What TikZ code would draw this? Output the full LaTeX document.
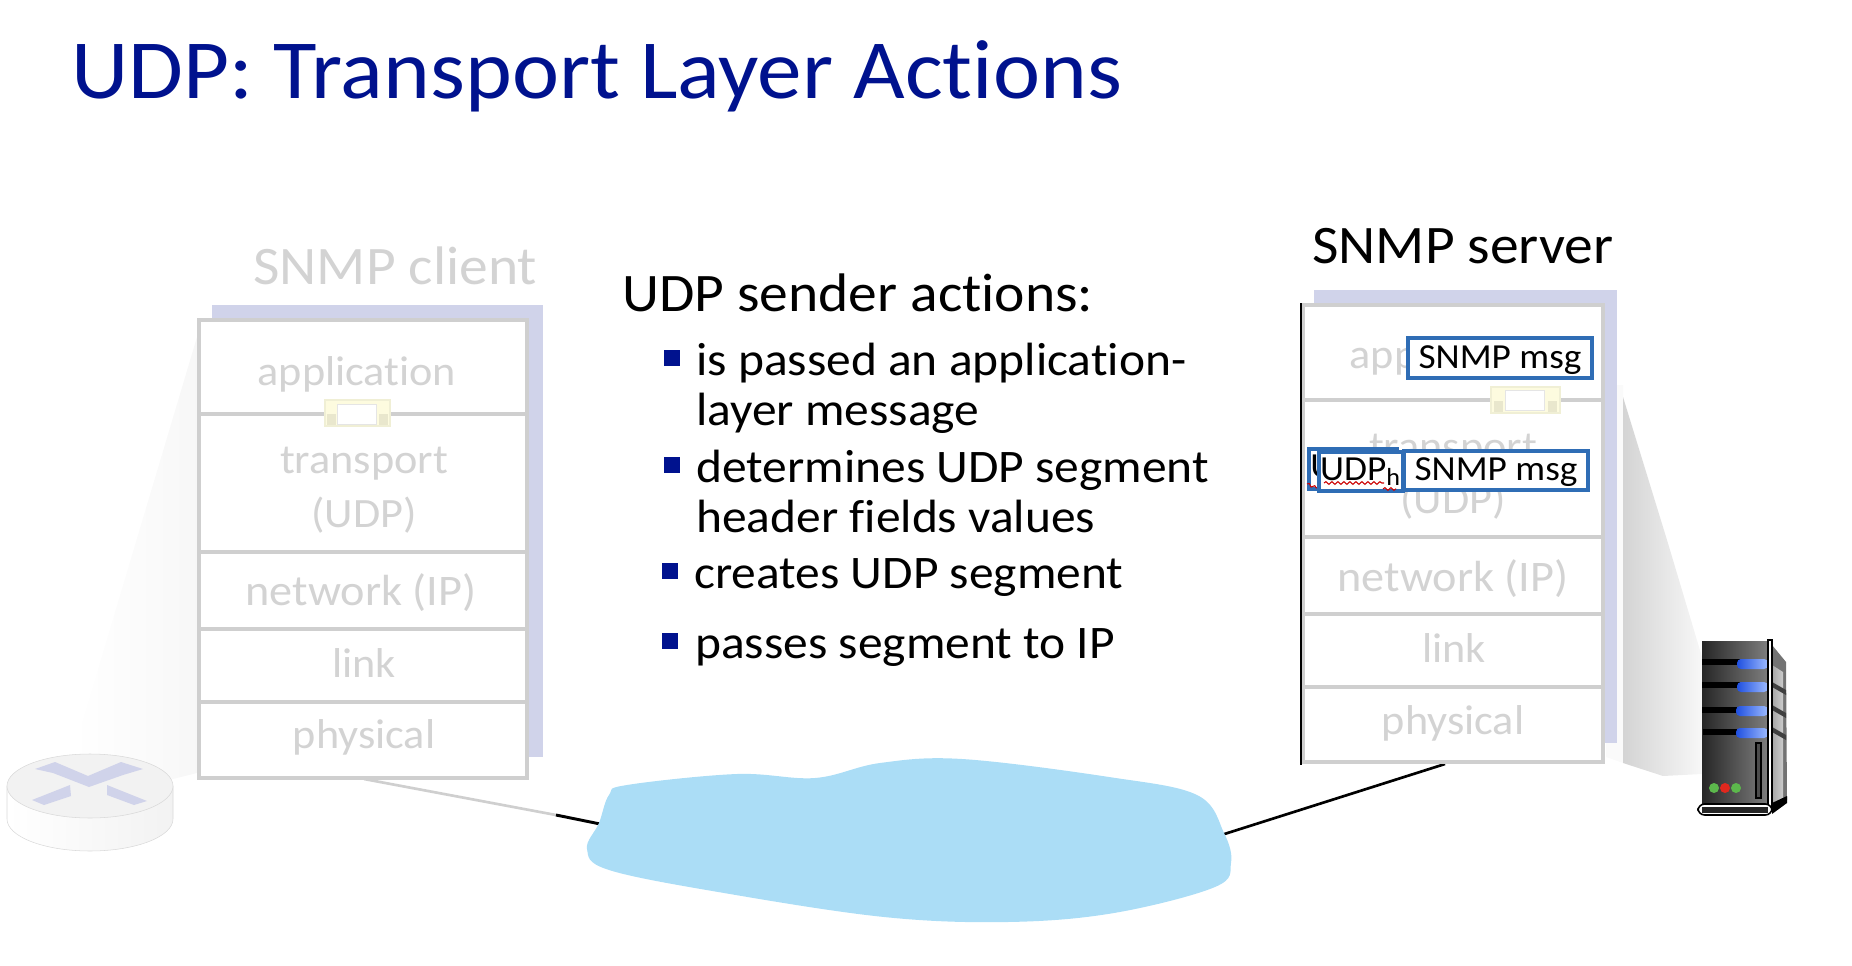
\documentclass[tikz,border=0pt]{standalone}
\usepackage{fontspec}
\setmainfont[FakeStretch=1.06,RawFeature=-liga]{Carlito}
\usetikzlibrary{decorations.pathmorphing}
\definecolor{titleblue}{HTML}{00128E}
\definecolor{stackgray}{HTML}{CFCFCF}
\definecolor{fadedtext}{HTML}{D3D3D3}
\definecolor{shadowblue}{HTML}{D0D3EA}
\definecolor{cloudblue}{HTML}{ABDDF6}
\definecolor{msgblue}{HTML}{2F6DB5}
\definecolor{bufyellow}{HTML}{FDFBDF}
\definecolor{pilldark}{HTML}{2050E0}
\definecolor{pillblue}{HTML}{9DBBFF}
\definecolor{ledgreen}{HTML}{5CB84C}
\definecolor{ledred}{HTML}{E0281E}
\tikzset{
  stackline/.style={draw=stackgray,line width=3.2pt},
  stackframe/.style={draw=stackgray,fill=white,line width=3.5pt},
  layerlabel/.style={text=fadedtext,font=\fontsize{31.3}{31.3}\selectfont,anchor=base,inner sep=0pt},
  hostlabel/.style={font=\fontsize{40.7}{40.7}\selectfont,anchor=base west,inner sep=0pt},
  bodytext/.style={font=\fontsize{35}{35}\selectfont,anchor=base west,inner sep=0pt},
  bulletsq/.style={fill=titleblue,minimum size=11.5pt,inner sep=0pt},
  msgbox/.style={draw=msgblue,fill=white,line width=3pt,inner sep=0pt,
    font=\fontsize{26.4}{26.4}\selectfont,minimum height=29.7pt,text height=19.5pt,text depth=4pt},
  hdrbox/.style={msgbox,text height=18pt,text depth=5.2pt},
  buffer/.style={draw=bufyellow!90!gray,fill=bufyellow,line width=1.2pt},
  squiggle/.style={draw=red!80!black,line width=.8pt,decorate,
    decoration={snake,amplitude=1pt,segment length=4.5pt}},
  drawer/.style={fill=black},
  pill/.style={left color=pilldark,right color=pillblue,rounded corners=3pt},
  led/.style={circle,minimum size=7.5pt,inner sep=0pt}
}
\begin{document}
\begin{tikzpicture}[x=0.75pt,y=-0.75pt]
\useasboundingbox (0,0) rectangle (1852,966);

\node[anchor=base west,inner sep=0pt,text=titleblue,font=\fontsize{63.1}{63.1}\selectfont] (title) at (71,99) {UDP: Transport Layer Actions};

% network links
\coordinate (clientlow) at (364,779);
\coordinate (fadeend) at (556,815);
\coordinate (serverlow) at (1445,764);
\coordinate (cloudleft) at (610,826);
\coordinate (cloudright) at (1215,837);
\draw[stackgray,line width=2pt] (clientlow) -- (fadeend);
\draw[black,line width=2.2pt] (fadeend) -- (cloudleft);
\draw[black,line width=2pt] (cloudright) -- (serverlow);

% client side
\shade[left color=white,right color=black!3] (197,337) -- (73,753) -- (173,779) -- (197,773) -- cycle;
\fill[shadowblue] (212,305) rectangle (543,757);
\draw[stackframe] (199,320) rectangle (527,778);
\draw[stackline] (201,414) -- (525,414);
\draw[stackline] (201,552) -- (525,552);
\draw[stackline] (201,629) -- (525,629);
\draw[stackline] (201,702) -- (525,702);
\fill[bufyellow] (325,400) rectangle (390,426);
\draw[buffer] (325,400) rectangle (390,426);
\fill[black!8!bufyellow] (327,414) rectangle (336,425);
\fill[black!8!bufyellow] (379,414) rectangle (388,425);
\draw[draw=black!10,fill=white] (337,404) rectangle (376,424);

\node[hostlabel,text=fadedtext] (clienthost) at (253,285) {SNMP client};
\node[layerlabel] (capp) at (357,385) {application};
\node[layerlabel] (ctrans) at (364,473) {transport};
\node[layerlabel] (cudp) at (364,527) {(UDP)};
\node[layerlabel,font=\fontsize{32.7}{32.7}\selectfont] (cnet) at (361,605) {network (IP)};
\node[layerlabel] (clink) at (364,677) {link};
\node[layerlabel] (cphys) at (364,748) {physical};

% router
\draw[draw=black!15,left color=white,right color=black!5] (7,786) -- (7,819) arc (180:0:83 and 32) -- (173,786) -- cycle;
\draw[draw=black!15,fill=black!5] (90,786) ellipse (83 and 32);
\fill[shadowblue] (35,769) -- (55,762) -- (88,776) -- (121,762) -- (143,769) -- (123,775) -- (89,787) -- (53,773) -- cycle;
\fill[shadowblue] (32,800) -- (70,785) -- (71,796) -- (44,805) -- cycle;
\fill[shadowblue] (107,785) -- (147,801) -- (134,805) -- (107,795) -- cycle;

% server side
\fill[black!2] (1606,385) -- (1623,385) -- (1623,763) -- (1606,757) -- cycle;
\shade[left color=black!17,right color=black!3] (1623,397) -- (1667,540) -- (1702,657) -- (1702,774) -- (1663,776) -- (1623,763) -- cycle;
\fill[shadowblue] (1314,290) rectangle (1617,743);
\draw[stackframe] (1303,305) rectangle (1603,762);
\draw[black,line width=1pt] (1301,303) -- (1301,765);
\draw[stackline] (1305,400) -- (1601,400);
\draw[stackline] (1305,537) -- (1601,537);
\draw[stackline] (1305,614) -- (1601,614);
\draw[stackline] (1305,687) -- (1601,687);
\fill[bufyellow] (1491,387) rectangle (1560,413);
\draw[buffer] (1491,387) rectangle (1560,413);
\fill[black!8!bufyellow] (1494,401) rectangle (1503,412);
\fill[black!8!bufyellow] (1548,401) rectangle (1557,412);
\draw[draw=black!10,fill=white] (1505,390) rectangle (1544,410);

\node[hostlabel] (serverhost) at (1312,263) {SNMP server};
\node[layerlabel] (sapp) at (1449,368) {application};
\node[layerlabel] (strans) at (1453,460) {transport};
\node[layerlabel] (sudp) at (1453,513) {(UDP)};
\node[layerlabel,font=\fontsize{32.7}{32.7}\selectfont] (snet) at (1453,591) {network (IP)};
\node[layerlabel] (slink) at (1454,662) {link};
\node[layerlabel] (sphys) at (1453,734) {physical};

\node[msgbox,minimum width=138pt] (appmsg) at (1500,358) {SNMP msg\hspace{5pt}};
\node[hdrbox,minimum width=66pt,text width=64pt,align=left,anchor=west] (udpback) at (1307,469) {UDP\textsubscript{h}};
\path[squiggle] (1307,484) -- (1317,488);
\node[msgbox,minimum width=138pt] (trnmsg) at (1496,470.5) {SNMP msg\hspace{5pt}};
\node[hdrbox,minimum width=63pt] (udphdr) at (1360.5,471.5) {UDP\textsubscript{h}};
\path[squiggle] (1324,483) -- (1384,483);
\path[squiggle] (1383,489) -- (1396,489);

% server box icon
\fill[black!55] (1772,645) -- (1786,662) -- (1787,800) -- (1772,813) -- cycle;
\shade[left color=black!35,right color=black!20] (1772,665) -- (1783,672) -- (1783,798) -- (1772,804) -- cycle;
\fill[black!75] (1772,682) -- (1786,690) -- (1786,695) -- (1772,687) -- cycle;
\fill[black!75] (1772,705) -- (1786,713) -- (1786,718) -- (1772,710) -- cycle;
\fill[black!75] (1772,727) -- (1786,735) -- (1786,740) -- (1772,732) -- cycle;
\fill[black] (1772,803) -- (1787,796) -- (1787,803) -- (1772,814) -- cycle;
\shade[left color=black!85,right color=black!50] (1702,641) rectangle (1769,803);
\fill[drawer] (1702,659) rectangle (1740,665);
\fill[drawer] (1702,682) rectangle (1740,688);
\fill[drawer] (1702,707) rectangle (1740,713);
\fill[drawer] (1703,729) rectangle (1740,735);
\shade[pill] (1737,659) rectangle (1768,669);
\shade[pill] (1737,682) rectangle (1768,692);
\shade[pill] (1736,706) rectangle (1768,716);
\shade[pill] (1736,728) rectangle (1768,738);
\draw[black,fill=black!70,line width=1pt] (1756,743) rectangle (1761,798);
\node[led,fill=ledgreen] (ledone) at (1714,788) {};
\node[led,fill=ledred] (ledtwo) at (1725,788) {};
\node[led,fill=ledgreen] (ledthree) at (1736,788) {};
\draw[black,fill=white,line width=1pt] (1768,640) rectangle (1772,808);
\draw[black,fill=white,line width=1.2pt,rounded corners=5pt] (1698,804) rectangle (1772,815);
\fill[black!85] (1702,806.5) rectangle (1768,812.5);

\fill[cloudblue] plot[smooth cycle,tension=.6] coordinates {
  (587,849) (599,823) (609,795) (627,785) (737,774) (815,778) (880,763) (962,759)
  (1109,777) (1197,795) (1224,833) (1231,863) (1215,887) (1114,913) (1008,922)
  (884,917) (724,893) (609,870)};

% text
\node[bodytext,font=\fontsize{40.7}{40.7}\selectfont] (head) at (622,311) {UDP sender actions:};
\node[bulletsq] (bulone) at (672,358) {};
\node[bodytext] (lineone) at (696,375) {is passed an application-};
\node[bodytext] (linetwo) at (696,425) {layer message};
\node[bulletsq] (bultwo) at (672,465) {};
\node[bodytext] (linethree) at (696,482) {determines UDP segment};
\node[bodytext] (linefour) at (696,532) {header fields values};
\node[bulletsq] (bulthree) at (670,571) {};
\node[bodytext] (linefive) at (694,588) {creates UDP segment};
\node[bulletsq] (bulfour) at (670,641) {};
\node[bodytext] (linesix) at (695,658) {passes segment to IP};
\end{tikzpicture}
\end{document}
